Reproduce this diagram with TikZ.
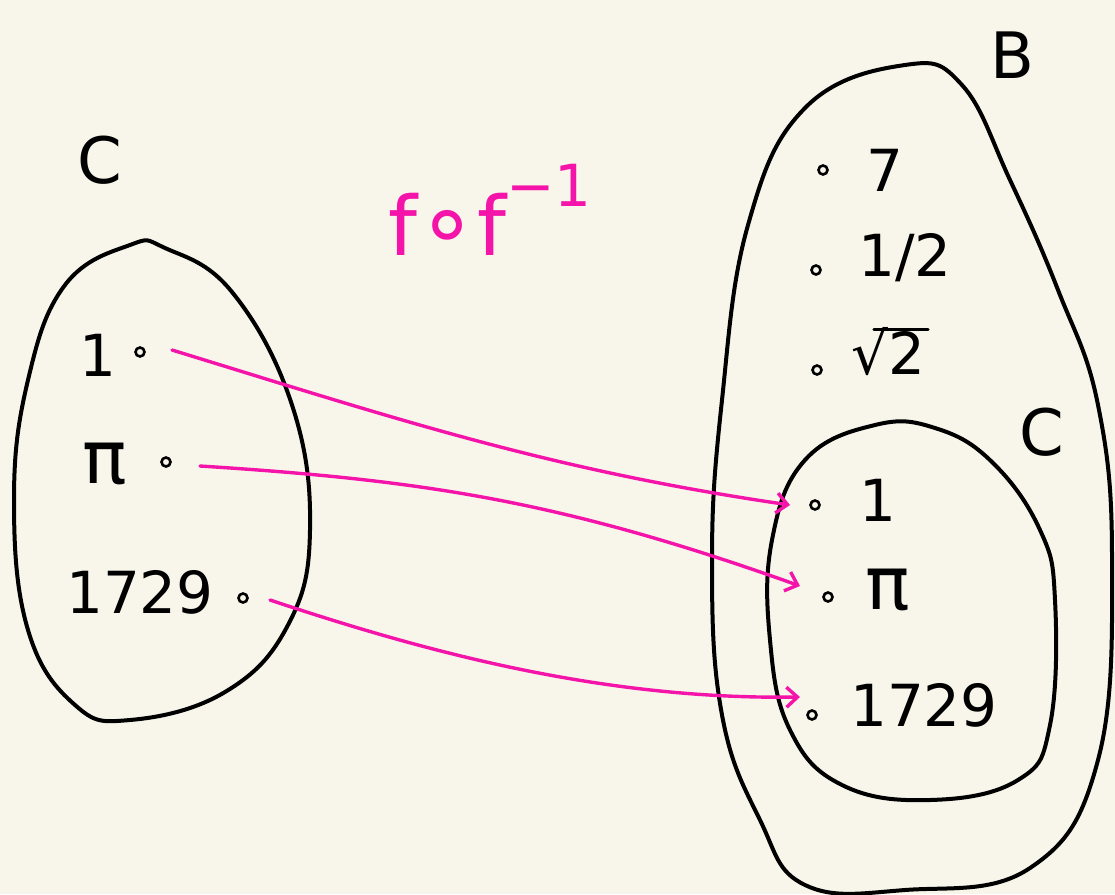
\documentclass[tikz,border=0pt]{standalone}
\usepackage{fontspec}
\setmainfont{DejaVu Sans}
\usetikzlibrary{arrows.meta}
\definecolor{bg}{RGB}{248,246,234}
\definecolor{pk}{RGB}{245,20,170}
\tikzset{
  ink/.style={line width=4pt, black, line cap=round, line join=round},
  pkline/.style={line width=3.4pt, pk, line cap=round, -{Straight Barb[length=11pt,width=20pt,line width=3.4pt]}},
  pt/.style={circle, draw, line width=2.6pt, inner sep=0pt, minimum size=9pt},
  lbl/.style={font=\fontsize{58}{58}\selectfont, inner sep=0pt},
  big/.style={font=\fontsize{64}{64}\selectfont, inner sep=0pt},
  pis/.style={font=\fontsize{74}{74}\selectfont, inner sep=0pt},
}
\begin{document}
\begin{tikzpicture}[x=1pt,y=-1pt]
\fill[bg] (0,0) rectangle (1115,894);
\useasboundingbox (0,0) rectangle (1115,894);
% left set C
\draw[ink] plot[smooth cycle, tension=0.7] coordinates {(130,245) (65,285) (28,380) (14,500) (28,630) (75,705) (130,720) (225,692) (288,625) (310,530) (292,405) (232,292) (165,248)};
% big set B
\draw[ink] plot[smooth cycle, tension=0.7] coordinates {(905,65) (805,108) (748,225) (722,400) (712,560) (722,715) (760,820) (805,885) (905,890) (1030,868) (1098,760) (1112,560) (1098,405) (1058,290) (1010,180) (962,85)};
% inner set C
\draw[ink] plot[smooth cycle, tension=0.7] coordinates {(875,425) (805,460) (772,540) (770,640) (790,730) (842,785) (930,800) (1018,780) (1050,725) (1055,600) (1040,530) (992,462) (935,428)};
% labels of sets
\node[big] (Cl) at (100,160) {C};
\node[big] (B) at (1012,55) {B};
\node[big] (Cr) at (1042,432) {C};
\node[font=\fontsize{82}{82}\selectfont, text=pk, inner sep=0pt] (ff) at (490,210) {f{\fontsize{96}{96}\selectfont∘}f\raisebox{0.6em}{\fontsize{58}{58}\selectfont −1}};
% left elements
\node[lbl] (l1) at (98,355) {1};
\node[pis] (lpi) at (105,464) {π};
\node[lbl] (l1729) at (140,592) {1729};
\node[pt] (a1) at (140,352) {};
\node[pt] (api) at (166,462) {};
\node[pt] (a1729) at (243,598) {};
% right elements
\node[pt] (b7) at (823,170) {};
\node[lbl] (r7) at (885,170) {7};
\node[pt] (bh) at (816,270) {};
\node[lbl] (rh) at (905,258) {1/2};
\node[pt] (bs) at (817,370) {};
\node[lbl] (rs) at (888,352) {√2};
\draw[line width=3.4pt, line cap=round] (rs.north) ++(-14,2) -- ++(54,0);
\node[pt] (c1) at (815,505) {};
\node[lbl] (r1) at (878,500) {1};
\node[pt] (cpi) at (828,597) {};
\node[pis] (rpi) at (888,590) {π};
\node[pt] (c1729) at (812,715) {};
\node[lbl] (r1729) at (924,705) {1729};
% arrows
\coordinate (s1) at (172,350);
\coordinate (s2) at (200,466);
\coordinate (s3) at (270,600);
\coordinate (t1) at (790,505);
\coordinate (t2) at (800,586);
\coordinate (t3) at (800,697);
\draw[pkline] (s1) .. controls (400,420) and (550,470) .. (t1);
\draw[pkline] (s2) .. controls (420,480) and (560,500) .. (t2);
\draw[pkline] (s3) .. controls (420,650) and (600,700) .. (t3);
\end{tikzpicture}
\end{document}
